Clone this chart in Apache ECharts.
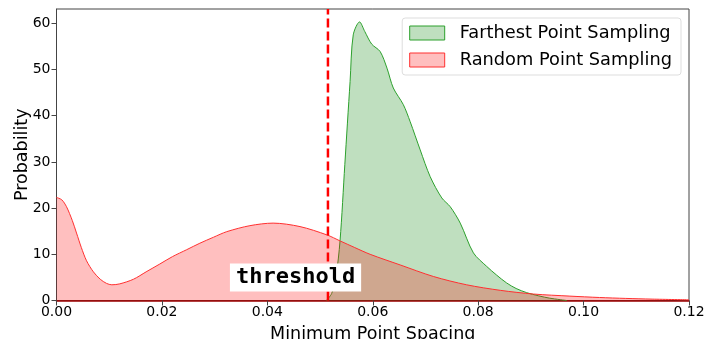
<!DOCTYPE html>
<html lang="en">
<head>
    <meta charset="UTF-8">
    <title>Minimum Point Spacing</title>
    <script src="https://cdn.jsdelivr.net/npm/echarts@6/dist/echarts.min.js"></script>
    <style>
        html, body { margin: 0; padding: 0; background: #fff; }
    </style>
</head>
<body>
<div id="main" style="width:705px;height:339px;"></div>
<script>
    // Farthest Point Sampling density
    var fpsX = [0.0512, 0.0522, 0.053, 0.0538, 0.0547, 0.0557, 0.0563, 0.0575, 0.0585, 0.0598, 0.0614, 0.0627, 0.0639, 0.0658, 0.0671, 0.069, 0.0709, 0.0731, 0.0747, 0.0766, 0.0791, 0.0816, 0.0835, 0.0854, 0.0872, 0.0892, 0.0915, 0.0936, 0.0968];
    var fpsY = [0, 1.5, 5, 13, 29.4, 47.4, 57.5, 60.3, 58.2, 55.5, 53.9, 50.3, 46, 42.4, 38.7, 32.6, 26.8, 22.2, 20.3, 16.75, 10.3, 7.4, 5.5, 3.8, 2.6, 1.7, 1.0, 0.5, 0];

    // Random Point Sampling density
    var rpsX = [0, 0.001, 0.0019, 0.003, 0.0038, 0.0047, 0.0057, 0.007, 0.0083, 0.0095, 0.0105, 0.012, 0.0146, 0.017, 0.0196, 0.022, 0.0247, 0.0272, 0.0298, 0.0323, 0.0367, 0.0411, 0.0462, 0.0513, 0.0538, 0.0565, 0.0595, 0.0652, 0.0715, 0.0778, 0.0842, 0.0905, 0.0974, 0.103, 0.108, 0.113, 0.12];
    var rpsY = [22.3, 21.8, 20.3, 17.3, 14.6, 11.5, 8.6, 6.2, 4.6, 3.7, 3.4, 3.6, 4.6, 6.2, 7.9, 9.5, 11.0, 12.4, 13.7, 14.9, 16.2, 16.75, 16.0, 14.2, 12.9, 11.5, 10.0, 7.7, 5.2, 3.4, 2.2, 1.4, 0.95, 0.65, 0.45, 0.3, 0.15];

    var xTicks = [0, 0.02, 0.04, 0.06, 0.08, 0.10, 0.12];
    var yTicks = [0, 10, 20, 30, 40, 50, 60];
    var yMax = 63.1;
    var threshold = 0.0515;
    var labelPos = [0.04535, 5];

    function pairs(xs, ys) {
        var out = [];
        for (var i = 0; i < xs.length; i++) out.push([xs[i], ys[i]]);
        return out;
    }

    var font = 'DejaVu Sans';
    var myChart = echarts.init(document.getElementById('main'));

    var option = {
        animation: false,
        grid: {
            left: 56.5, right: 16, top: 9, bottom: 38.5,
            outerBoundsMode: 'none',
            show: true, borderColor: '#444', borderWidth: 1
        },
        legend: {
            orient: 'vertical',
            right: 24,
            top: 18,
            padding: [6, 9, 6, 7],
            itemGap: 9,
            itemWidth: 35,
            itemHeight: 14,
            textStyle: {fontFamily: font, fontSize: 17.8, color: '#000', padding: [0, 0, 0, 10]},
            borderColor: '#ddd',
            borderWidth: 1,
            borderRadius: 3,
            backgroundColor: 'rgba(255,255,255,0.8)',
            data: [
                {name: 'Farthest Point Sampling', icon: 'rect',
                    itemStyle: {color: 'rgba(0,128,0,0.25)', borderColor: '#2ca02c', borderWidth: 1}},
                {name: 'Random Point Sampling', icon: 'rect',
                    itemStyle: {color: 'rgba(255,0,0,0.25)', borderColor: '#ff3030', borderWidth: 1}}
            ]
        },
        xAxis: {
            type: 'value',
            min: 0, max: 0.12, interval: 0.02,
            name: 'Minimum Point Spacing',
            nameLocation: 'middle',
            nameGap: 25,
            nameTextStyle: {fontFamily: font, fontSize: 17.5, color: '#000'},
            // baseline shows the red fill edge over the dark spine
            axisLine: {show: true, lineStyle: {color: '#9a0000', width: 1.5}},
            axisTick: {show: true, length: 5, lineStyle: {color: '#444'}, customValues: xTicks},
            axisLabel: {fontFamily: font, fontSize: 14, color: '#000', margin: 5,
                customValues: xTicks,
                formatter: function (v) { return v.toFixed(2); }},
            splitLine: {show: false}
        },
        yAxis: {
            type: 'value',
            min: 0, max: yMax,
            name: 'Probability',
            nameLocation: 'middle',
            nameGap: 25,
            nameMoveOverlap: false,
            nameTextStyle: {fontFamily: font, fontSize: 17.5, color: '#000'},
            axisLine: {show: true, lineStyle: {color: '#444'}},
            axisTick: {show: true, length: 5, lineStyle: {color: '#444'}, customValues: yTicks},
            axisLabel: {fontFamily: font, fontSize: 14, color: '#000', margin: 6, customValues: yTicks},
            splitLine: {show: false}
        },
        series: [
            {
                name: 'Farthest Point Sampling',
                type: 'line',
                data: pairs(fpsX, fpsY),
                smooth: 0.3,
                showSymbol: false,
                lineStyle: {color: '#2ca02c', width: 1},
                itemStyle: {color: 'rgba(0,128,0,0.25)'},
                areaStyle: {color: 'rgba(0,128,0,0.25)', opacity: 1},
                z: 2
            },
            {
                name: 'Random Point Sampling',
                type: 'line',
                data: pairs(rpsX, rpsY),
                smooth: 0.3,
                showSymbol: false,
                lineStyle: {color: '#ff3030', width: 1},
                itemStyle: {color: 'rgba(255,0,0,0.25)'},
                areaStyle: {color: 'rgba(255,0,0,0.25)', opacity: 1},
                z: 3,
                markPoint: {
                    silent: true,
                    symbol: 'rect',
                    symbolSize: 0,
                    data: [{coord: labelPos, value: 'threshold'}],
                    label: {
                        show: true,
                        position: 'inside',
                        formatter: 'threshold',
                        fontFamily: 'DejaVu Sans Mono',
                        fontWeight: 'bold',
                        fontSize: 22,
                        color: '#000',
                        backgroundColor: '#fff',
                        padding: [3, 6, 3, 6]
                    }
                }
            },
            {
                name: 'threshold',
                type: 'line',
                data: [[threshold, 0], [threshold, yMax]],
                showSymbol: false,
                silent: true,
                lineStyle: {color: '#ff0000', type: [9, 4], width: 2.5},
                z: 4
            }
        ]
    };

    myChart.setOption(option);
</script>
</body>
</html>
